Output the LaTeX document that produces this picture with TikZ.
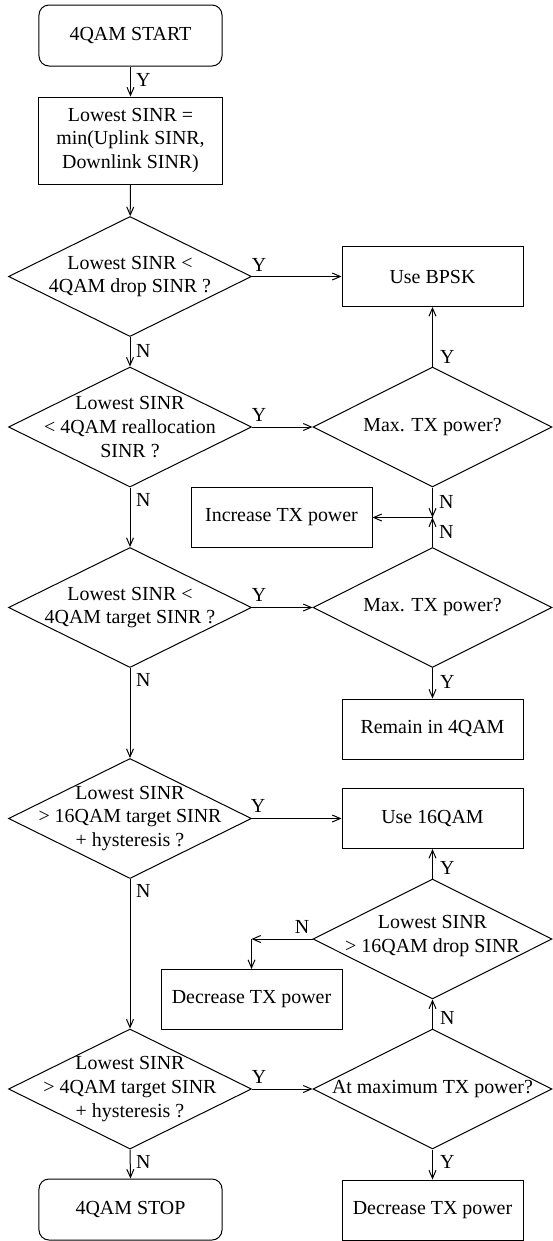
\documentclass[tikz,border=0pt]{standalone}
\usepackage{fontspec}
\setmainfont{Liberation Serif}
\usetikzlibrary{arrows.meta,shapes.geometric}
\begin{document}
\begin{tikzpicture}[x=1bp,y=-1bp,
  every node/.style={font=\fontsize{20}{24}\selectfont},
  box/.style={draw, line width=1bp, minimum width=181bp, minimum height=60bp, inner sep=0pt, align=center},
  term/.style={box, rounded corners=10bp, minimum width=183bp, minimum height=61bp},
  dia/.style={draw, diamond, line width=1bp, minimum width=243bp, minimum height=120bp, inner sep=0pt},
  rdia/.style={dia, minimum width=239bp},
  txt/.style={align=center, inner sep=0pt},
  arr/.style={line width=1bp, -{Straight Barb[length=8bp,width=7bp]}},
  ln/.style={line width=1bp},
  lab/.style={inner sep=0pt}]
\useasboundingbox (0,0) rectangle (553,1241);
\fill[white] (0,0) rectangle (553,1241);

% left column
\node[term] (start) at (130.5,35.5) {4QAM START};
\node[box, minimum width=183bp, minimum height=87bp] (low) at (130.5,140.5) {Lowest SINR =\\min(Uplink SINR,\\ Downlink SINR)};
\node[dia] (d1) at (130,276.5) {};
\node[txt] (d1t) at (d1) {Lowest SINR <\\4QAM drop SINR ?};
\node[dia] (d2) at (130,427) {};
\node[txt] (d2t) at (d2) {Lowest SINR\\< 4QAM reallocation\\SINR ?};
\node[dia] (d3) at (130,607.5) {};
\node[txt] (d3t) at (d3) {Lowest SINR <\\4QAM target SINR ?};
\node[dia] (d4) at (130,818.5) {};
\node[txt] (d4t) at (d4) {Lowest SINR\\> 16QAM target SINR\\+ hysteresis ?};
\node[dia] (d5) at (130,1089) {};
\node[txt] (d5t) at (d5) {Lowest SINR\\> 4QAM target SINR\\+ hysteresis ?};
\node[term] (stop) at (130.5,1209.5) {4QAM STOP};

% right column
\node[box] (bpsk) at (432.5,276.5) {Use BPSK};
\node[rdia] (A) at (432.5,427) {};
\node[txt] (At) at (A) {Max. TX power?};
\node[box] (inc) at (281.5,517.5) {Increase TX power};
\node[rdia] (B) at (432.5,607.5) {};
\node[txt] (Bt) at (B) {Max. TX power?};
\node[box] (remain) at (432.5,729) {Remain in 4QAM};
\node[box] (q16) at (432.5,818.5) {Use 16QAM};
\node[rdia] (C) at (432.5,939) {};
\node[txt] (Ct) at (432.5,936) {Lowest SINR\\> 16QAM drop SINR};
\node[box] (dec1) at (251.5,999.5) {Decrease TX power};
\node[rdia] (D) at (432.5,1089) {};
\node[txt] (Dt) at (D) {At maximum TX power?};
\node[box] (dec2) at (432.5,1210) {Decrease TX power};

\coordinate (j) at (432.5,517.5);
\coordinate (k) at (251.5,939);

% connectors
\draw[arr] (start) -- (low);
\draw[arr] (low) -- (d1);
\draw[arr] (d1.east) -- (bpsk.west);
\draw[arr] (d1.south) -- (d2.north);
\draw[arr] (d2.east) -- (A.west);
\draw[arr] (A.north) -- (bpsk.south);
\draw[arr] (A.south) -- (j);
\draw[arr] (B.north) -- (j);
\draw[arr] (j) -- (inc.east);
\draw[arr] (d2.south) -- (d3.north);
\draw[arr] (d3.east) -- (B.west);
\draw[arr] (B.south) -- (remain.north);
\draw[arr] (d3.south) -- (d4.north);
\draw[arr] (d4.east) -- (q16.west);
\draw[arr] (C.north) -- (q16.south);
\draw[arr] (C.west) -- (k);
\draw[arr] (k) -- (dec1.north);
\draw[arr] (D.north) -- (C.south);
\draw[arr] (d4.south) -- (d5.north);
\draw[arr] (d5.east) -- (D.west);
\draw[arr] (d5.south) -- (stop.north);
\draw[arr] (D.south) -- (dec2.north);

% labels
\node[lab, anchor=west] (y1) at (136,80) {Y};
\node[lab] (y2) at (259,265) {Y};
\node[lab, anchor=west] (n1) at (136,351) {N};
\node[lab] (y3) at (259,415) {Y};
\node[lab, anchor=west] (y4) at (440,357) {Y};
\node[lab, anchor=west] (n2) at (439,502) {N};
\node[lab, anchor=west] (n3) at (439,532) {N};
\node[lab, anchor=west] (n4) at (136,500) {N};
\node[lab] (y5) at (259,595) {Y};
\node[lab, anchor=west] (y6) at (440,682) {Y};
\node[lab, anchor=west] (n5) at (136,680) {N};
\node[lab] (y7) at (258,806) {Y};
\node[lab, anchor=west] (n6) at (136,891) {N};
\node[lab, anchor=west] (y8) at (440,868) {Y};
\node[lab] (n7) at (302,927) {N};
\node[lab, anchor=west] (n8) at (440,1018) {N};
\node[lab] (y9) at (259,1077) {Y};
\node[lab, anchor=west] (n9) at (136,1162) {N};
\node[lab, anchor=west] (y10) at (440,1162) {Y};
\end{tikzpicture}
\end{document}
